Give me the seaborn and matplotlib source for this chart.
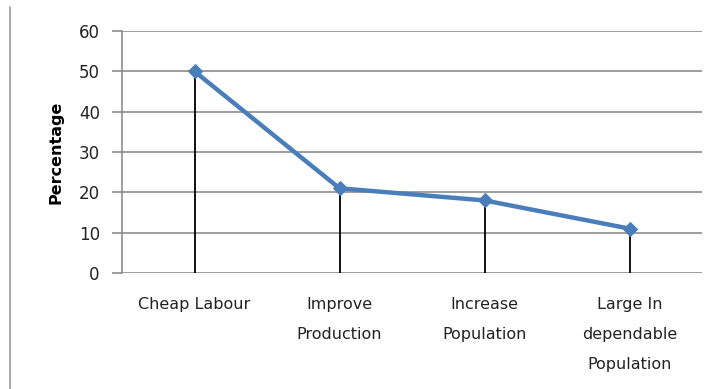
import matplotlib
matplotlib.use("Agg")
import matplotlib.pyplot as plt
import seaborn as sns
import pandas as pd

categories = ["Cheap Labour", "Improve\nProduction", "Increase\nPopulation", "Large In\ndependable\nPopulation"]
percentages = [50, 21, 18, 11]
y_ticks = [0, 10, 20, 30, 40, 50, 60]

df = pd.DataFrame({"pos": range(len(categories)), "pct": percentages})

sns.set_theme(style="white")
plt.rcParams["font.family"] = ["DejaVu Sans"]

fig = plt.figure(figsize=(7.14, 3.89), dpi=100)
ax = fig.add_axes([122 / 714, 116 / 389, 580 / 714, 242 / 389])

# horizontal gridlines
ax.set_ylim(0, 60)
ax.set_yticks(y_ticks)
ax.grid(axis="y", color="#8c8c8c", linewidth=1.2)
ax.set_axisbelow(True)

# drop lines from each point to the baseline
ax.vlines(df["pos"], 0, df["pct"], color="black", linewidth=1.3, zorder=2)

sns.lineplot(data=df, x="pos", y="pct", ax=ax, color="#4A7EBB", linewidth=3.2,
             marker="D", markersize=7, markeredgecolor="#4A7EBB", zorder=3)

ax.set_xlim(-0.5, len(categories) - 0.5)
ax.set_xticks(range(len(categories)))
ax.set_xticklabels(categories, fontsize=11.5, color="#222222", linespacing=2.25, va="top")
ax.tick_params(axis="x", length=0, pad=17)
ax.tick_params(axis="y", length=7, color="#8c8c8c", width=1.2, labelsize=12,
               labelcolor="#222222", pad=9, left=True)
ax.set_xlabel("")
ax.set_ylabel("Percentage", fontsize=11.5, fontweight="bold", color="black", labelpad=11)

for side in ["top", "right", "bottom"]:
    ax.spines[side].set_visible(False)
ax.spines["left"].set_color("#8c8c8c")
ax.spines["left"].set_linewidth(1.2)

# thin frame line on the left edge of the figure
fig.add_artist(plt.Line2D([10 / 714, 10 / 714], [0, 382 / 389], color="#9a9a9a",
                          linewidth=1.2, transform=fig.transFigure))

fig.savefig("out.png", dpi=100)
